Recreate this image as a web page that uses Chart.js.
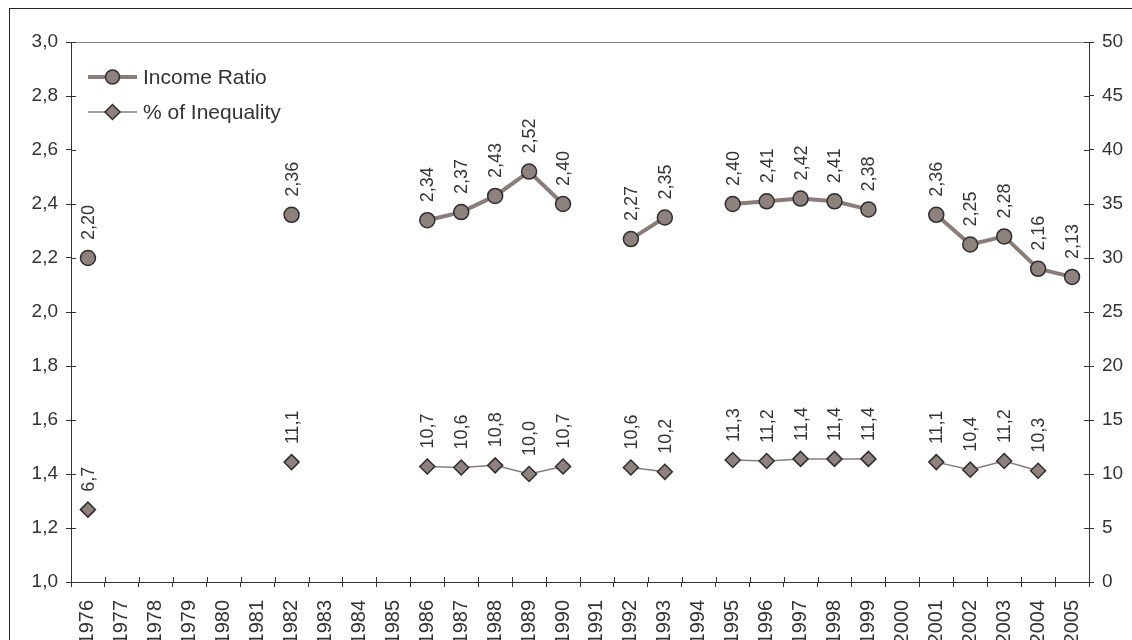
<!DOCTYPE html>
<html>
<head>
<meta charset="utf-8">
<script src="https://cdn.jsdelivr.net/npm/chart.js@4/dist/chart.umd.min.js"></script>
<style>
  html, body { margin: 0; padding: 0; background: #fff; overflow: hidden; width: 1132px; height: 640px; }
  #frame { position: absolute; left: 9px; top: 8px; width: 1300px; height: 900px; border: 1px solid #222; box-sizing: border-box; }
  #wrap { position: absolute; left: 0; top: 0; width: 1132px; height: 660px; }
</style>
</head>
<body>
<div id="frame"></div>
<div id="wrap"><canvas id="c" width="1132" height="660"></canvas></div>
<script>
// Survey years on the category axis
const years = ['1976','1977','1978','1979','1980','1981','1982','1983','1984','1985',
               '1986','1987','1988','1989','1990','1991','1992','1993','1994','1995',
               '1996','1997','1998','1999','2000','2001','2002','2003','2004','2005'];

// Income ratio (left axis); null where no survey
const incomeRatio = [2.20, null, null, null, null, null, 2.36, null, null, null,
                     2.34, 2.37, 2.43, 2.52, 2.40, null, 2.27, 2.35, null, 2.40,
                     2.41, 2.42, 2.41, 2.38, null, 2.36, 2.25, 2.28, 2.16, 2.13];

// Share of inequality in % (right axis)
const inequalityPct = [6.7, null, null, null, null, null, 11.1, null, null, null,
                       10.7, 10.6, 10.8, 10.0, 10.7, null, 10.6, 10.2, null, 11.3,
                       11.2, 11.4, 11.4, 11.4, null, 11.1, 10.4, 11.2, 10.3, null];

// Axis ranges
const leftTicks = { min: 1.0, max: 3.0, step: 0.2 };
const rightTicks = { min: 0, max: 50, step: 5 };

const seriesNames = ['Income Ratio', '% of Inequality'];

const FONT = '"Liberation Sans", Arial, sans-serif';
const FILL = '#8e827f';
const LINE = '#8a7c79';
const EDGE = '#2e2e2e';
const AXIS = '#333333';
const TEXT = '#333333';

const comma = (v, d) => v.toFixed(d).replace('.', ',');

// Value labels written vertically above each point
const valueLabels = {
  id: 'valueLabels',
  afterDatasetsDraw(chart) {
    const ctx = chart.ctx;
    chart.data.datasets.forEach((ds, i) => {
      const meta = chart.getDatasetMeta(i);
      const dec = i === 0 ? 2 : 1;
      meta.data.forEach((pt, j) => {
        const v = ds.data[j];
        if (v === null || v === undefined) return;
        ctx.save();
        ctx.translate(pt.x, pt.y - 18);
        ctx.rotate(-Math.PI / 2);
        ctx.font = '18px ' + FONT;
        ctx.fillStyle = TEXT;
        ctx.textAlign = 'left';
        ctx.textBaseline = 'middle';
        ctx.fillText(comma(v, dec), 0, 1);
        ctx.restore();
      });
    });
  }
};

// Short tick marks on the inner side of each axis, plus the top border of the plot
const innerTicks = {
  id: 'innerTicks',
  afterDraw(chart) {
    const ctx = chart.ctx;
    const a = chart.chartArea;
    const L = 5;
    ctx.save();
    ctx.strokeStyle = '#8a8a8a';
    ctx.lineWidth = 1;
    ctx.beginPath();
    ctx.moveTo(a.left, a.top + 0.5);
    ctx.lineTo(a.right, a.top + 0.5);
    ctx.stroke();

    ctx.strokeStyle = AXIS;
    ctx.beginPath();
    const yl = chart.scales.y;
    yl.ticks.forEach((t, i) => {
      const p = Math.round(yl.getPixelForTick(i)) + 0.5;
      ctx.moveTo(a.left, p); ctx.lineTo(a.left + L, p);
    });
    const yr = chart.scales.y1;
    yr.ticks.forEach((t, i) => {
      const p = Math.round(yr.getPixelForTick(i)) + 0.5;
      ctx.moveTo(a.right, p); ctx.lineTo(a.right - L, p);
    });
    const xs = chart.scales.x;
    const n = xs.ticks.length;
    for (let i = 0; i <= n; i++) {
      const p = Math.round(xs.left + i * (xs.width / n)) + 0.5;
      ctx.moveTo(p, a.bottom); ctx.lineTo(p, a.bottom - L);
    }
    ctx.stroke();
    ctx.restore();
  }
};

// Legend drawn inside the plot, top-left corner
const insideLegend = {
  id: 'insideLegend',
  afterDraw(chart) {
    const ctx = chart.ctx;
    const a = chart.chartArea;
    const x0 = a.left + 17, x1 = a.left + 66, xm = (x0 + x1) / 2;
    const rows = [a.top + 35, a.top + 70];
    ctx.save();
    ctx.font = '21px ' + FONT;
    ctx.fillStyle = TEXT;
    ctx.textBaseline = 'middle';
    ctx.textAlign = 'left';
    chart.data.datasets.forEach((ds, i) => {
      const y = rows[i];
      ctx.strokeStyle = LINE;
      ctx.lineWidth = ds.borderWidth;
      ctx.beginPath(); ctx.moveTo(x0, y); ctx.lineTo(x1, y); ctx.stroke();
      ctx.fillStyle = FILL;
      ctx.strokeStyle = EDGE;
      ctx.lineWidth = 1.5;
      ctx.beginPath();
      if (i === 0) {
        ctx.arc(xm, y, 7, 0, Math.PI * 2);
      } else {
        const r = 7.5;
        ctx.moveTo(xm - r, y); ctx.lineTo(xm, y - r); ctx.lineTo(xm + r, y); ctx.lineTo(xm, y + r);
        ctx.closePath();
      }
      ctx.fill(); ctx.stroke();
      ctx.fillStyle = TEXT;
      ctx.fillText(ds.label, x1 + 6, y + 1);
    });
    ctx.restore();
  }
};

new Chart(document.getElementById('c'), {
  type: 'line',
  data: {
    labels: years,
    datasets: [
      {
        label: seriesNames[0],
        data: incomeRatio,
        yAxisID: 'y',
        borderColor: LINE,
        borderWidth: 4,
        pointStyle: 'circle',
        pointRadius: 7.5,
        pointBorderWidth: 1.5,
        pointBackgroundColor: FILL,
        pointBorderColor: EDGE,
        spanGaps: false,
        tension: 0
      },
      {
        label: seriesNames[1],
        data: inequalityPct,
        yAxisID: 'y1',
        borderColor: LINE,
        borderWidth: 1.5,
        pointStyle: 'rectRot',
        pointRadius: 7.5,
        pointBorderWidth: 1.5,
        pointBackgroundColor: FILL,
        pointBorderColor: EDGE,
        spanGaps: false,
        tension: 0
      }
    ]
  },
  options: {
    responsive: false,
    animation: false,
    layout: { padding: { top: 42, left: 0, right: 0, bottom: 0 } },
    plugins: { legend: { display: false }, tooltip: { enabled: false } },
    scales: {
      x: {
        offset: true,
        grid: { offset: true, drawOnChartArea: false, drawTicks: true, tickLength: 5, color: AXIS },
        border: { display: true, color: AXIS, width: 1 },
        ticks: { autoSkip: false, maxRotation: 90, minRotation: 90, padding: 13, color: TEXT,
                 font: { family: FONT, size: 20 } },
        afterFit(s) { s.height = 78; }
      },
      y: {
        position: 'left',
        min: leftTicks.min, max: leftTicks.max,
        grid: { drawOnChartArea: false, drawTicks: true, tickLength: 5, color: AXIS },
        border: { display: true, color: AXIS, width: 1 },
        ticks: { stepSize: leftTicks.step, padding: 8, color: TEXT, font: { family: FONT, size: 19 },
                 callback: v => comma(v, 1) },
        afterFit(s) { s.width = 71; }
      },
      y1: {
        position: 'right',
        min: rightTicks.min, max: rightTicks.max,
        grid: { drawOnChartArea: false, drawTicks: true, tickLength: 5, color: AXIS },
        border: { display: true, color: AXIS, width: 1 },
        ticks: { stepSize: rightTicks.step, padding: 8, color: TEXT, font: { family: FONT, size: 19 } },
        afterFit(s) { s.width = 43; }
      }
    }
  },
  plugins: [valueLabels, innerTicks, insideLegend]
});
</script>
</body>
</html>
